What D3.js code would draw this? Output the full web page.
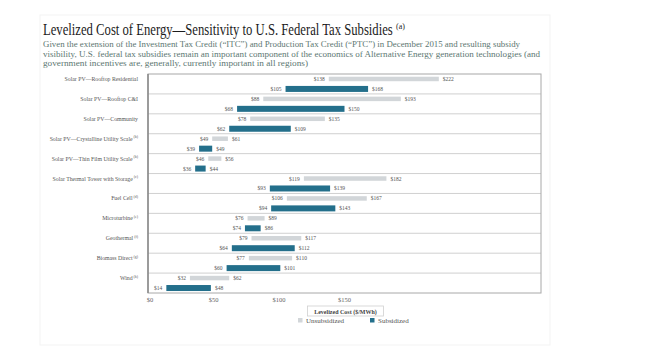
<!DOCTYPE html>
<html lang="en">
<head>
<meta charset="UTF-8">
<title>Levelized Cost of Energy — Sensitivity to U.S. Federal Tax Subsidies</title>
<script src="https://cdnjs.cloudflare.com/ajax/libs/d3/7.8.5/d3.min.js"></script>
<style>
  body { margin: 0; background: #fff; }
  text { font-family: "Liberation Serif", "DejaVu Serif", serif; }
</style>
</head>
<body>
<div id="chart"></div>
<script>
    // data
    const categories = [
        "Solar PV\u2014Rooftop Residential",
        "Solar PV\u2014Rooftop C&I",
        "Solar PV\u2014Community",
        "Solar PV\u2014Crystalline Utility Scale",
        "Solar PV\u2014Thin Film Utility Scale",
        "Solar Thermal Tower with Storage",
        "Fuel Cell",
        "Microturbine",
        "Geothermal",
        "Biomass Direct",
        "Wind"
    ];
    const notes = ["", "", "", "(b)", "(b)", "(c)", "(d)", "(e)", "(f)", "(g)", "(h)"];
    const unsubLow  = [138, 88, 78, 49, 46, 119, 106, 76, 79, 77, 32];
    const unsubHigh = [222, 193, 135, 61, 56, 182, 167, 89, 117, 110, 62];
    const subLow    = [105, 68, 62, 39, 36, 93, 94, 74, 64, 60, 14];
    const subHigh   = [168, 150, 109, 49, 44, 139, 143, 86, 112, 101, 48];
    const tickValues = [0, 50, 100, 150];
    const seriesNames = ["Unsubsidized", "Subsidized"];

    const colors = { unsub: "#d2d6d9", sub: "#236f8b" };

    const width = 670, height = 353;
    const plot = { left: 148, right: 541, top: 74, bottom: 293 };

    const svg = d3.select("#chart").append("svg")
        .attr("width", width)
        .attr("height", height);

    // faint slide border
    svg.append("rect")
        .attr("x", 40).attr("y", 15)
        .attr("width", 510).attr("height", 330)
        .attr("fill", "none").attr("stroke", "#f3f3f3");

    // title: squeeze to 350px wide, keep glyph height
    const title = svg.append("text")
        .attr("font-size", 16.5)
        .attr("fill", "#1c1c1c")
        .text("Levelized Cost of Energy\u2014Sensitivity to U.S. Federal Tax Subsidies");
    const tw = title.node().getComputedTextLength();
    const fs = 16.5 * 350 / tw;
    title.attr("font-size", fs)
        .attr("transform", `translate(43,35) scale(1,${16.5 / fs})`);
    svg.append("text")
        .attr("x", 396).attr("y", 29)
        .attr("font-size", 8)
        .attr("fill", "#1c1c1c")
        .text("(a)");

    // subtitle
    const subLines = [
        ["Given the extension of the Investment Tax Credit (\u201CITC\u201D) and Production Tax Credit (\u201CPTC\u201D) in December 2015 and resulting subsidy", 477],
        ["visibility, U.S. federal tax subsidies remain an important component of the economics of Alternative Energy generation technologies (and", 497],
        ["government incentives are, generally, currently important in all regions)", 265]
    ];
    svg.selectAll(".sub")
        .data(subLines)
        .enter().append("text")
        .attr("class", "sub")
        .attr("x", 43)
        .attr("y", (d, i) => 47 + i * 9.5)
        .attr("font-size", 8)
        .attr("fill", "#5d7772")
        .attr("textLength", d => d[1])
        .attr("lengthAdjust", "spacingAndGlyphs")
        .text(d => d[0]);

    // scales
    const x = d3.scaleLinear().domain([0, 300]).range([plot.left, plot.right]);
    const y = d3.scaleBand().domain(categories).range([plot.top, plot.bottom]);
    const bw = y.bandwidth();

    // separators
    svg.selectAll(".sep")
        .data(categories.slice(1))
        .enter().append("line")
        .attr("x1", plot.left).attr("x2", plot.right)
        .attr("y1", d => y(d)).attr("y2", d => y(d))
        .attr("stroke", "#c4c4c4").attr("stroke-width", 0.8);

    // frame
    svg.append("rect")
        .attr("x", plot.left).attr("y", plot.top)
        .attr("width", plot.right - plot.left)
        .attr("height", plot.bottom - plot.top)
        .attr("fill", "none").attr("stroke", "#a8a8a8").attr("stroke-width", 1);
    svg.append("line")
        .attr("x1", plot.left).attr("x2", plot.left)
        .attr("y1", plot.top).attr("y2", plot.bottom)
        .attr("stroke", "#888").attr("stroke-width", 1.5);

    // category labels
    const cat = svg.selectAll(".cat")
        .data(categories)
        .enter().append("text")
        .attr("class", "cat")
        .attr("x", 138)
        .attr("y", d => y(d) + bw * 0.25 + 2)
        .attr("text-anchor", "end")
        .attr("font-size", 5.8)
        .attr("fill", "#555");
    cat.append("tspan").text(d => d);
    cat.append("tspan")
        .attr("font-size", 3.8).attr("dy", -2.5).attr("dx", 1)
        .text((d, i) => notes[i]);

    // bars
    const rows = [
        { key: "unsub", low: unsubLow, high: unsubHigh, off: 0.25, h: 4.5 },
        { key: "sub", low: subLow, high: subHigh, off: 0.75, h: 6 }
    ];
    rows.forEach(r => {
        const g = svg.append("g");
        g.selectAll("rect")
            .data(categories)
            .enter().append("rect")
            .attr("x", (d, i) => x(r.low[i]))
            .attr("width", (d, i) => x(r.high[i]) - x(r.low[i]))
            .attr("y", d => y(d) + bw * r.off - r.h / 2)
            .attr("height", r.h)
            .attr("fill", colors[r.key]);
        g.selectAll(".lo")
            .data(categories)
            .enter().append("text")
            .attr("x", (d, i) => x(r.low[i]) - 4)
            .attr("y", d => y(d) + bw * r.off + 2)
            .attr("text-anchor", "end")
            .attr("font-size", 5.5)
            .attr("fill", "#555")
            .text((d, i) => "$" + r.low[i]);
        g.selectAll(".hi")
            .data(categories)
            .enter().append("text")
            .attr("x", (d, i) => x(r.high[i]) + 4)
            .attr("y", d => y(d) + bw * r.off + 2)
            .attr("font-size", 5.5)
            .attr("fill", "#555")
            .text((d, i) => "$" + r.high[i]);
    });

    // x axis tick labels
    svg.selectAll(".tick")
        .data(tickValues)
        .enter().append("text")
        .attr("x", d => x(d) + (d === 0 ? 2 : 0))
        .attr("y", 302)
        .attr("text-anchor", "middle")
        .attr("font-size", 6.5)
        .attr("fill", "#666")
        .text(d => "$" + d);

    // axis title box
    const cx = (plot.left + plot.right) / 2;
    svg.append("rect")
        .attr("x", cx - 37).attr("y", 306)
        .attr("width", 76).attr("height", 10)
        .attr("fill", "#fff").attr("stroke", "#d0d0d0").attr("stroke-width", 0.8);
    svg.append("text")
        .attr("x", cx + 1).attr("y", 313.5)
        .attr("text-anchor", "middle")
        .attr("font-size", 6)
        .attr("font-weight", "bold")
        .attr("fill", "#444")
        .text("Levelized Cost ($/MWh)");

    // legend
    const legend = svg.selectAll(".leg")
        .data(seriesNames)
        .enter().append("g")
        .attr("transform", (d, i) => `translate(${298 + i * 72}, 322)`);
    legend.append("rect")
        .attr("x", 0).attr("y", -4)
        .attr("width", 4.5).attr("height", 4.5)
        .attr("fill", (d, i) => i === 0 ? colors.unsub : colors.sub);
    legend.append("text")
        .attr("x", 8).attr("y", 0.5)
        .attr("font-size", 7)
        .attr("fill", "#555")
        .text(d => d);
</script>
</body>
</html>
